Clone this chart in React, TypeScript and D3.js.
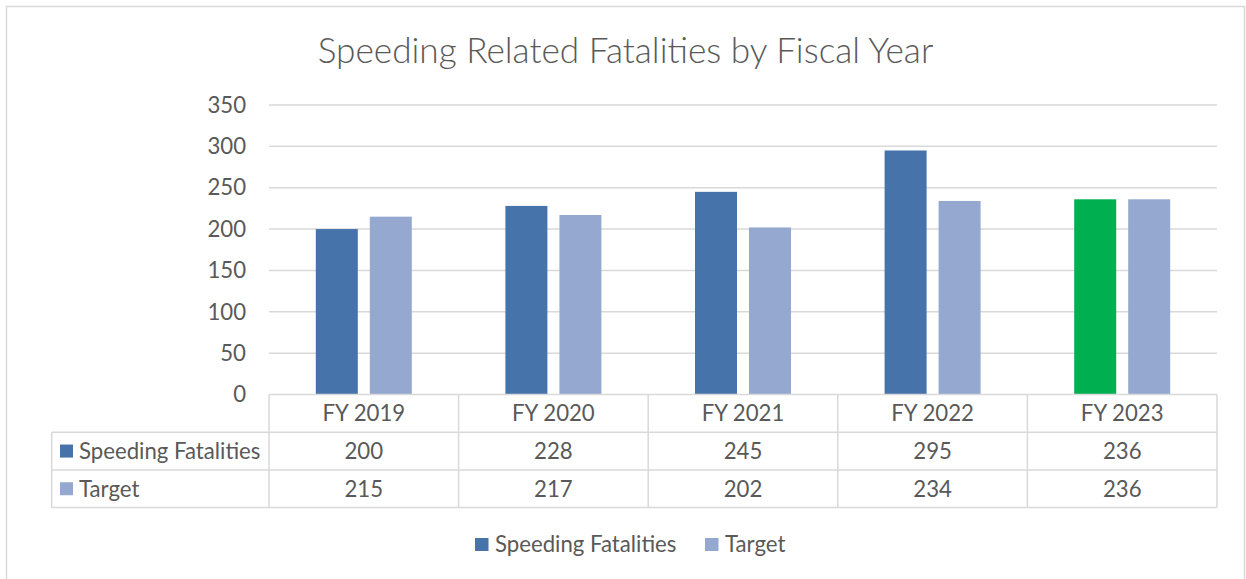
import React from "react";
import * as d3 from "d3";

const categories = ["FY 2019", "FY 2020", "FY 2021", "FY 2022", "FY 2023"];
const speeding = [200, 228, 245, 295, 236];
const target = [215, 217, 202, 234, 236];
const yTicks = [0, 50, 100, 150, 200, 250, 300, 350];
const seriesNames = ["Speeding Fatalities", "Target"];

const W = 1246;
const H = 579;
const DARK = "#4673A9";
const LIGHT = "#95A9D0";
const GREEN = "#00B050";
const TEXT = "#595959";
const GRID = "#D9D9D9";
const FONT = "Lato, 'Open Sans', sans-serif";
const FS = 22.2;

export default function App() {
  const left = 269;
  const right = 1217;
  const y0 = 394.5;
  const y350 = 105;
  const x = d3.scaleBand<string>().domain(categories).range([left, right]).padding(0);
  const y = d3.scaleLinear().domain([0, 350]).range([y0, y350]);
  const bw = 42;
  const gap = 12;
  const rowH = 37.7;
  const tableLeft = 51.7;
  const rows = [y0, y0 + rowH, y0 + 2 * rowH, y0 + 3 * rowH];
  const bounds = categories.map((c) => x(c)!).concat([right]);

  const barColor = (s: number, i: number) =>
    s === 0 ? (i === categories.length - 1 ? GREEN : DARK) : LIGHT;

  return (
    <div style={{ position: "fixed", left: 0, top: 0 }}>
      <svg width={W} height={H} style={{ display: "block", fontFamily: FONT }}>
        <rect x={0} y={0} width={W} height={H} fill="#fff" />
        <rect x={6.5} y={6.5} width={1238} height={H + 10} fill="none" stroke={GRID} strokeWidth={1.5} />
        <text x={625.5} y={63} textAnchor="middle" fontSize={35.2} fontWeight={300} fill={TEXT}>
          Speeding Related Fatalities by Fiscal Year
        </text>
        {yTicks.map((t) => (
          <g key={t}>
            {t > 0 && (
              <line x1={left} x2={right} y1={y(t)} y2={y(t)} stroke={GRID} strokeWidth={1.5} />
            )}
            <text x={246} y={y(t)} dy="0.35em" textAnchor="end" fontSize={FS} fill={TEXT}>
              {t}
            </text>
          </g>
        ))}
        {categories.map((c, i) => {
          const cx = x(c)! + x.bandwidth() / 2;
          return (
            <g key={c}>
              {[speeding[i], target[i]].map((v, s) => {
                const bx = s === 0 ? cx - gap / 2 - bw : cx + gap / 2;
                return (
                  <rect
                    key={s}
                    x={bx}
                    y={y(v)}
                    width={bw}
                    height={y0 - y(v)}
                    fill={barColor(s, i)}
                  />
                );
              })}
            </g>
          );
        })}
        {/* data table */}
        <g stroke={GRID} strokeWidth={1.5} fill="none">
          <line x1={left} x2={right} y1={rows[0]} y2={rows[0]} />
          <line x1={tableLeft} x2={right} y1={rows[1]} y2={rows[1]} />
          <line x1={tableLeft} x2={right} y1={rows[2]} y2={rows[2]} />
          <line x1={tableLeft} x2={right} y1={rows[3]} y2={rows[3]} />
          <line x1={tableLeft} x2={tableLeft} y1={rows[1]} y2={rows[3]} />
          {bounds.map((b, i) => (
            <line key={i} x1={b} x2={b} y1={rows[0]} y2={rows[3]} />
          ))}
        </g>
        {categories.map((c, i) => {
          const cx = x(c)! + x.bandwidth() / 2;
          return (
            <g key={c} fontSize={FS} fill={TEXT} textAnchor="middle">
              <text x={cx} y={(rows[0] + rows[1]) / 2} dy="0.35em">{c}</text>
              <text x={cx} y={(rows[1] + rows[2]) / 2} dy="0.35em">{speeding[i]}</text>
              <text x={cx} y={(rows[2] + rows[3]) / 2} dy="0.35em">{target[i]}</text>
            </g>
          );
        })}
        {seriesNames.map((n, s) => {
          const cy = (rows[1 + s] + rows[2 + s]) / 2;
          return (
            <g key={n}>
              <rect x={60} y={cy - 6.5} width={13} height={13} fill={s === 0 ? DARK : LIGHT} />
              <text x={79} y={cy} dy="0.35em" fontSize={FS} fill={TEXT}>{n}</text>
            </g>
          );
        })}
        {/* legend */}
        {seriesNames.map((n, s) => {
          const lx = s === 0 ? 475 : 705;
          return (
            <g key={n}>
              <rect x={lx} y={538} width={13.5} height={13} fill={s === 0 ? DARK : LIGHT} />
              <text x={lx + 20} y={544.5} dy="0.35em" fontSize={FS} fill={TEXT}>{n}</text>
            </g>
          );
        })}
      </svg>
    </div>
  );
}
